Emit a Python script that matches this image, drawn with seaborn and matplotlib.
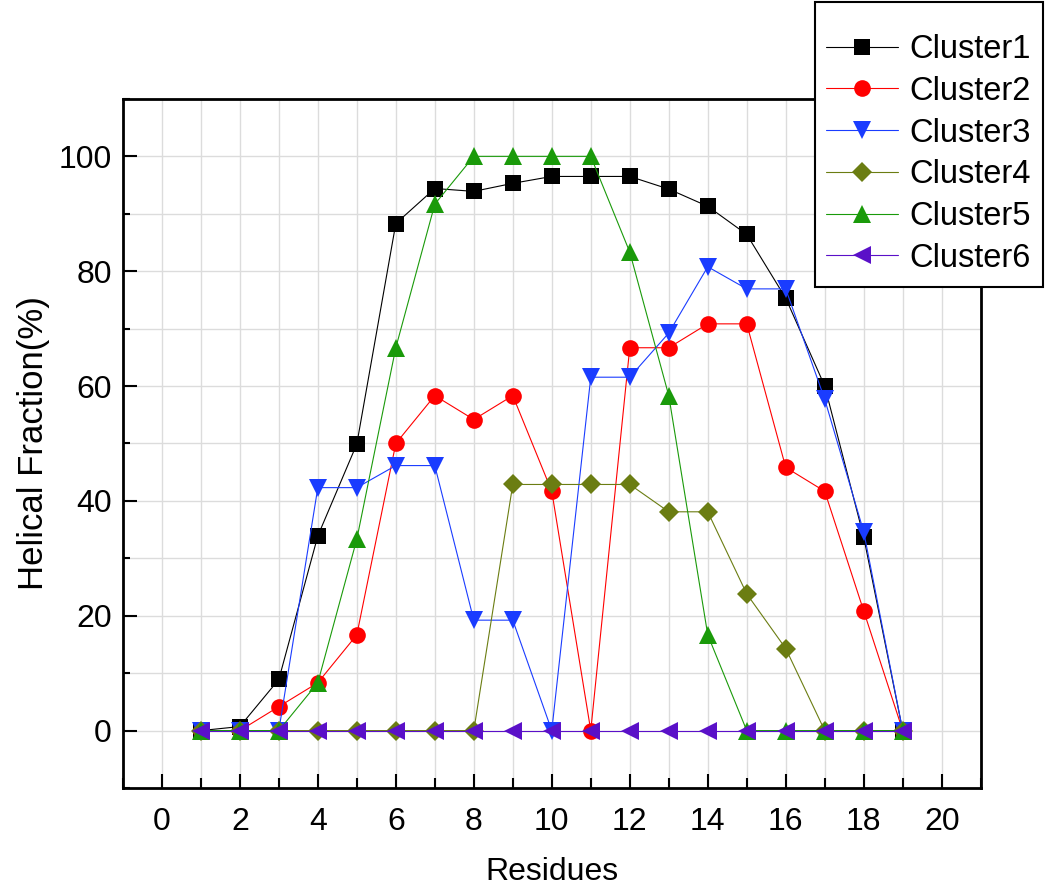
import matplotlib
matplotlib.use("Agg")
import matplotlib.pyplot as plt
from matplotlib.ticker import MultipleLocator
from matplotlib.patches import Rectangle
import seaborn as sns
import pandas as pd

# data
residues = list(range(1, 20))
cluster1 = [0, 0.7, 8.9, 33.9, 49.9, 88.3, 94.4, 93.9, 95.3, 96.5,
            96.5, 96.5, 94.3, 91.3, 86.4, 75.3, 60.0, 33.7, 0]
cluster2 = [0, 0, 4.17, 8.33, 16.67, 50.0, 58.33, 54.17, 58.33, 41.67,
            0, 66.67, 66.67, 70.83, 70.83, 45.83, 41.67, 20.83, 0]
cluster3 = [0, 0, 0, 42.31, 42.31, 46.15, 46.15, 19.23, 19.23, 0,
            61.54, 61.54, 69.23, 80.77, 76.92, 76.92, 57.69, 34.62, 0]
cluster4 = [0, 0, 0, 0, 0, 0, 0, 0, 42.86, 42.86,
            42.86, 42.86, 38.10, 38.10, 23.81, 14.29, 0, 0, 0]
cluster5 = [0, 0, 0, 8.33, 33.33, 66.67, 91.67, 100, 100, 100,
            100, 83.33, 58.33, 16.67, 0, 0, 0, 0, 0]
cluster6 = [0] * 19

names = ["Cluster1", "Cluster2", "Cluster3", "Cluster4", "Cluster5", "Cluster6"]
series = [cluster1, cluster2, cluster3, cluster4, cluster5, cluster6]
colors = ["#000000", "#ff0000", "#1a3cff", "#6b7d12", "#1a9a0a", "#5a10c8"]
markers = ["s", "o", "v", "D", "^", "<"]
msizes = [11, 12, 13, 10, 13, 13]

sns.set_style("white")
plt.rcParams['font.family'] = ['Liberation Sans', 'DejaVu Sans']
plt.rcParams['text.color'] = 'black'
plt.rcParams['axes.labelcolor'] = 'black'
plt.rcParams['xtick.color'] = 'black'
plt.rcParams['ytick.color'] = 'black'

fig = plt.figure(figsize=(10.5, 8.88), dpi=100)
ax = fig.add_axes([0.117, 0.1126, 0.817, 0.776])

for name, vals, c, m, ms in zip(names, series, colors, markers, msizes):
    df = pd.DataFrame({"Residues": residues, "Helical": vals})
    sns.lineplot(data=df, x="Residues", y="Helical", ax=ax, color=c,
                 marker=m, markersize=ms, markeredgewidth=0, linewidth=0.8,
                 label=name)

ax.set_xlim(-1, 21)
ax.set_ylim(-10, 110)
ax.xaxis.set_major_locator(MultipleLocator(2))
ax.xaxis.set_minor_locator(MultipleLocator(1))
ax.yaxis.set_major_locator(MultipleLocator(20))
ax.yaxis.set_minor_locator(MultipleLocator(10))
ax.grid(True, which="both", color="#dcdcdc", linewidth=1.0)
ax.set_axisbelow(True)

ax.tick_params(axis="both", which="both", direction="in", width=1.5,
               bottom=True, left=True, top=False, right=False)
ax.tick_params(axis="both", which="major", length=10, labelsize=23)
ax.tick_params(axis="x", which="major", pad=14)
ax.tick_params(axis="y", which="major", pad=8)
ax.tick_params(axis="x", which="minor", length=7)
ax.tick_params(axis="y", which="minor", length=5)
for s in ax.spines.values():
    s.set_color("black")
    s.set_linewidth(2)

ax.set_xlabel("Residues", fontsize=23, labelpad=14)
ax.set_ylabel("Helical Fraction(%)", fontsize=25, labelpad=6)

# legend box sits over the top-right corner of the frame
box = Rectangle((815 / 1050, 1 - 287 / 888), 228 / 1050, 285 / 888,
                transform=fig.transFigure, facecolor="white",
                edgecolor="black", linewidth=1.5, zorder=4)
fig.patches.append(box)

handles, labels = ax.get_legend_handles_labels()
leg = fig.legend(handles, labels, loc="upper left",
                 bbox_to_anchor=(826 / 1050, 1 - 34 / 888),
                 frameon=False, fontsize=23.5, handlelength=2.2,
                 borderpad=0, borderaxespad=0, labelspacing=0.33,
                 handletextpad=0.35)
leg.set_zorder(5)
ax.get_legend().remove()

fig.savefig("out.png", dpi=100)
